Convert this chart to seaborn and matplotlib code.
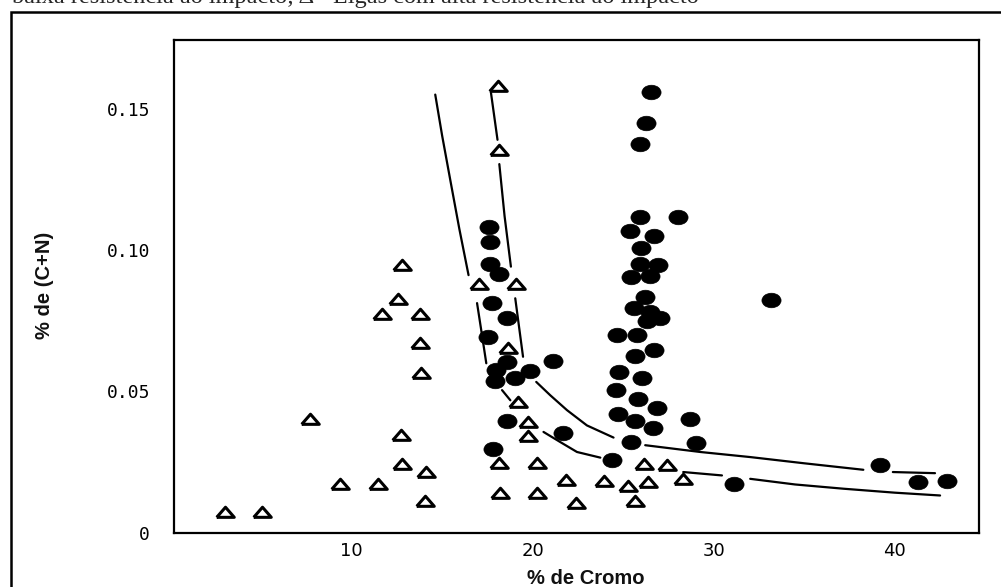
import numpy as np
import pandas as pd
import matplotlib.pyplot as plt
import seaborn as sns
from matplotlib.markers import MarkerStyle
from matplotlib.transforms import Affine2D
from matplotlib.patches import Rectangle

# Ligas com alta resistencia ao impacto (triangulos)
tri_cr = [3.03, 5.06, 7.72, 9.38, 11.44, 12.75, 12.79, 14.13, 14.07, 11.70,
          13.80, 13.80, 13.85, 12.58, 12.80, 18.06, 18.16, 17.05, 19.08, 18.62,
          19.17, 19.74, 19.74, 18.16, 20.24, 18.21, 20.24, 21.84, 22.39, 23.96,
          25.27, 25.67, 26.13, 26.40, 27.42, 28.30]
tri_cn = [0.0072, 0.0072, 0.040, 0.0172, 0.0172, 0.0345, 0.0243, 0.0213, 0.011, 0.0773,
          0.0773, 0.0669, 0.0563, 0.0827, 0.0946, 0.158, 0.1353, 0.0879, 0.0879, 0.0652,
          0.0463, 0.039, 0.0343, 0.0246, 0.0246, 0.0139, 0.0139, 0.0186, 0.0105, 0.0184,
          0.0166, 0.011, 0.0243, 0.0178, 0.0239, 0.019]

# Ligas com baixa resistencia ao impacto (circulos)
circ_cr = [26.54, 26.26, 25.91, 25.94, 28.03, 25.39, 26.68, 26.00, 25.94, 26.90,
           25.45, 26.46, 26.22, 25.61, 26.50, 27.05, 26.31, 24.66, 25.76, 33.16,
           26.72, 25.67, 24.75, 26.04, 24.62, 25.80, 26.87, 24.71, 25.67, 26.65,
           28.67, 25.43, 29.02, 17.76, 18.58, 17.51, 18.58, 21.12, 17.99, 17.94,
           19.04, 19.87, 18.58, 21.68, 17.79, 24.41, 31.15, 17.57, 17.66, 17.62,
           18.12, 39.20, 41.31, 42.91]
circ_cn = [0.156, 0.1451, 0.1374, 0.1117, 0.1118, 0.1066, 0.1048, 0.1007, 0.0952, 0.0948,
           0.0903, 0.0909, 0.0832, 0.0793, 0.0779, 0.0761, 0.075, 0.070, 0.070, 0.0823,
           0.0647, 0.0626, 0.0569, 0.0546, 0.0506, 0.0473, 0.044, 0.042, 0.0396, 0.0369,
           0.0402, 0.0322, 0.0316, 0.0814, 0.0761, 0.0693, 0.0602, 0.0608, 0.0576, 0.0537,
           0.0547, 0.0573, 0.0396, 0.0352, 0.0296, 0.0255, 0.0172, 0.108, 0.1027, 0.095,
           0.0915, 0.0239, 0.0178, 0.0181]

# curvas limite (tracos interrompidos), lidas ponto a ponto
curve1_cr = [14.62, 15.00, 15.45, 15.95, 16.46,
             16.93, 17.20, 17.44,
             18.31, 18.77,
             20.60, 21.53, 22.45, 23.74,
             28.32, 30.46,
             32.02, 34.50, 37.17, 40.00, 42.51]
curve1_cn = [0.155, 0.1405, 0.1248, 0.1075, 0.0911,
             0.0812, 0.0700, 0.0599,
             0.0504, 0.0468,
             0.0356, 0.0320, 0.0285, 0.0265,
             0.0214, 0.0202,
             0.0190, 0.0170, 0.0155, 0.0141, 0.0131]
curve1_seg = [0, 0, 0, 0, 0, 1, 1, 1, 2, 2, 3, 3, 3, 3, 4, 4, 5, 5, 5, 5, 5]

curve2_cr = [17.70, 18.06,
             18.16, 18.45, 18.80,
             19.04, 19.47,
             20.20, 20.97, 21.90, 23.00, 24.47,
             26.22, 29.26, 32.02, 35.00, 38.27,
             39.90, 42.23]
curve2_cn = [0.1556, 0.139,
             0.1304, 0.1120, 0.0941,
             0.0829, 0.0622,
             0.0533, 0.0486, 0.0433, 0.0379, 0.0336,
             0.0309, 0.0285, 0.0267, 0.0245, 0.0222,
             0.0214, 0.021]
curve2_seg = [10, 10, 11, 11, 11, 12, 12, 13, 13, 13, 13, 13, 14, 14, 14, 14, 14, 15, 15]

x_ticks = [10, 20, 30, 40]
y_ticks = [0, 0.05, 0.10, 0.15]
y_ticklabels = ['0', '0.05', '0.10', '0.15']

sns.set_style('white')
plt.rcParams['font.family'] = ['DejaVu Sans']

fig = plt.figure(figsize=(10.01, 5.87), dpi=100)
W, H = 1001, 587
ax = fig.add_axes([173.5 / W, 1 - 532.5 / H, (979 - 173.5) / W, (532.5 - 39.5) / H])

curves = pd.DataFrame({
    'cr': curve1_cr + curve2_cr,
    'cn': curve1_cn + curve2_cn,
    'seg': curve1_seg + curve2_seg,
})
sns.lineplot(data=curves, x='cr', y='cn', units='seg', estimator=None, sort=False,
             color='black', linewidth=1.6, ax=ax)

tri_marker = [(-1, -0.55), (1, -0.55), (0, 0.6), (-1, -0.55)]
sns.scatterplot(x=tri_cr, y=tri_cn, marker=tri_marker, s=160, facecolor='white',
                edgecolor='black', linewidth=2.2, ax=ax, zorder=3)

circ_marker = MarkerStyle('o', transform=Affine2D().scale(1, 0.76))
sns.scatterplot(x=circ_cr, y=circ_cn, marker=circ_marker, s=190, color='black',
                edgecolor='black', linewidth=0.5, ax=ax, zorder=3)

ax.set_xlim(0.16, 44.66)
ax.set_ylim(0, 0.1745)
ax.set_xticks(x_ticks)
ax.set_xticklabels([str(t) for t in x_ticks], fontsize=13)
ax.set_yticks(y_ticks)
ax.set_yticklabels(y_ticklabels, fontsize=13, family='DejaVu Sans Mono')
ax.tick_params(axis='x', direction='in', length=9.5, width=1.5, pad=7, colors='black')
ax.tick_params(axis='y', direction='in', length=14, width=1.5, pad=17, colors='black')
ax.set_xlabel('')
ax.set_ylabel('')
for sp in ax.spines.values():
    sp.set_visible(True)
    sp.set_color('black')
    sp.set_linewidth(1.6)

fig.text(586 / W, 1 - 578 / H, '% de Cromo', ha='center', va='center',
         fontsize=14.5, fontweight='bold', family='Liberation Sans', color='#111111')
fig.text(45 / W, 1 - 285 / H, '% de (C+N)', ha='center', va='center', rotation=90,
         fontsize=14.5, fontweight='bold', family='Liberation Sans', color='#111111')

# texto cortado acima da figura e moldura externa
fig.text(12 / W, 1 - 3.5 / H,
         'baixa resistência ao impacto; Δ - Ligas com alta resistência ao impacto',
         ha='left', va='baseline', fontsize=17.5, family='Liberation Serif')
fig.patches.append(Rectangle((11 / W, -0.1), 1.2, (1 - 12.3 / H) + 0.1,
                             transform=fig.transFigure, fill=False,
                             edgecolor='black', linewidth=1.8))

fig.savefig('out.png', dpi=100)
plt.close(fig)
